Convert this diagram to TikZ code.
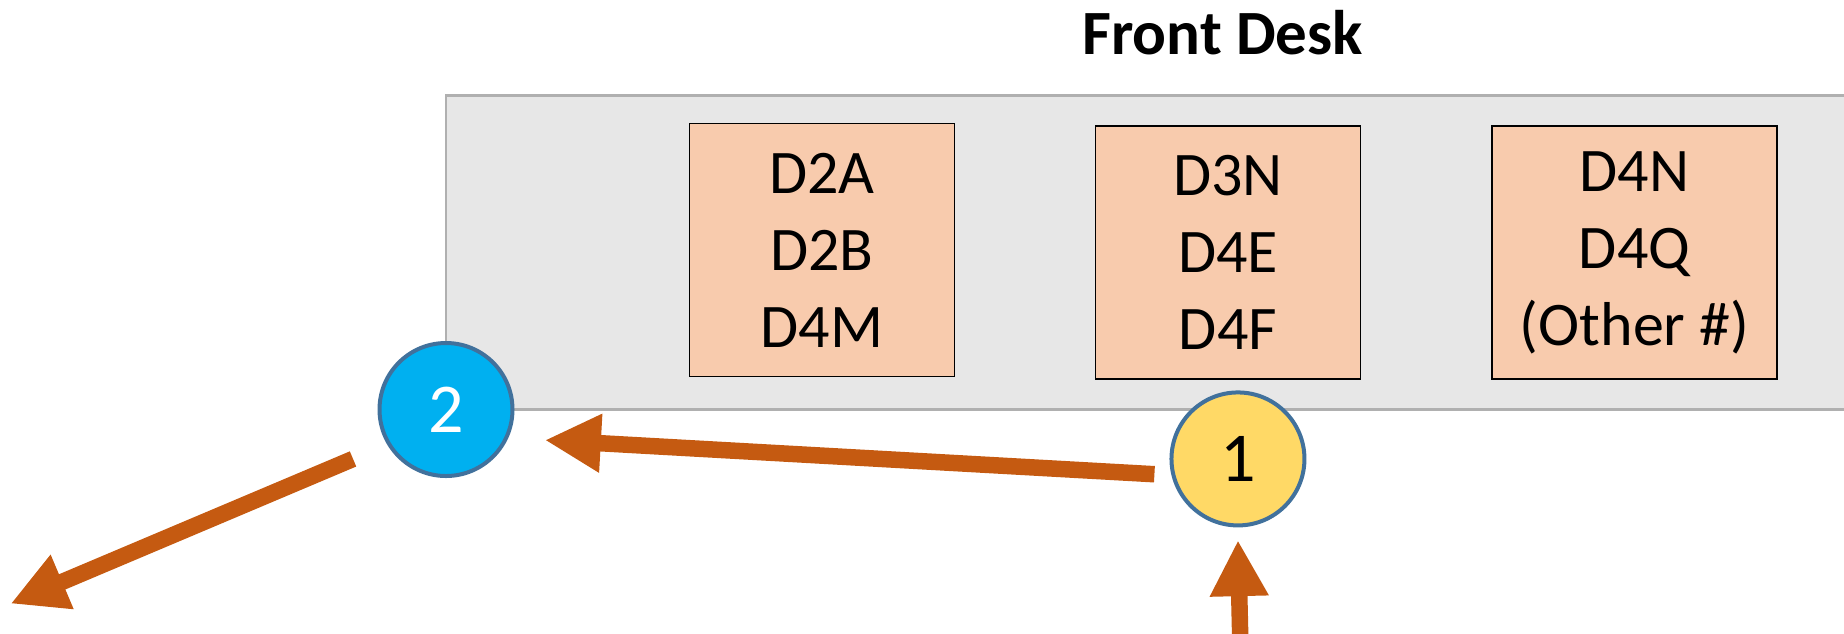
\documentclass[tikz,border=0pt]{standalone}
\usepackage{fontspec}
\setmainfont{Carlito}
\usetikzlibrary{arrows.meta}
\definecolor{deskgray}{HTML}{E7E7E7}
\definecolor{deskline}{HTML}{B0B0B0}
\definecolor{peach}{HTML}{F8CBAD}
\definecolor{cblue}{HTML}{00B0F0}
\definecolor{cyellow}{HTML}{FFD966}
\definecolor{cring}{HTML}{41719C}
\definecolor{arr}{HTML}{C55A11}
\tikzset{
  deskbox/.style={draw=black, line width=1.75pt, fill=peach, minimum width=265pt, minimum height=253pt, align=center, font=\fontsize{62}{77}\selectfont, inner sep=0pt},
  marker/.style={circle, draw=cring, line width=4pt, minimum size=133pt, inner sep=0pt, font=\fontsize{70}{80}\selectfont},
  bigarrow/.style={draw=arr, line width=16.5pt, -{Triangle[length=56pt,width=55pt]}}
}
\begin{document}
\begin{tikzpicture}[x=1.1768pt,y=-1.1768pt]
\useasboundingbox (0,0) rectangle (1567,538);
\draw[deskline, line width=2.5pt, fill=deskgray] (1580,81) -- (379,81) -- (379,348) -- (1580,348);
\node[font=\bfseries\fontsize{63}{70}\selectfont] (title) at (1039,28) {Front Desk};
\node[deskbox] (b1) at (698.5,212.5) {D2A\\D2B\\D4M};
\node[deskbox] (b2) at (1043.5,214.5) {D3N\\D4E\\D4F};
\node[deskbox, minimum width=285pt] (b3) at (1389,214.5) {D4N\\D4Q\\(Other \#)};
\node[marker, fill=cblue, text=white] (c2) at (379,348) {2};
\node[marker, fill=cyellow, text=black] (c1) at (1052,390) {1};
\coordinate (a1s) at (981,403);
\coordinate (a1e) at (463,374);
\coordinate (a2s) at (300,390);
\coordinate (a2e) at (9,513);
\coordinate (a3s) at (1054,545);
\coordinate (a3e) at (1052,459);
\draw[bigarrow] (a1s) -- (a1e);
\draw[bigarrow] (a2s) -- (a2e);
\draw[bigarrow] (a3s) -- (a3e);
\end{tikzpicture}
\end{document}
